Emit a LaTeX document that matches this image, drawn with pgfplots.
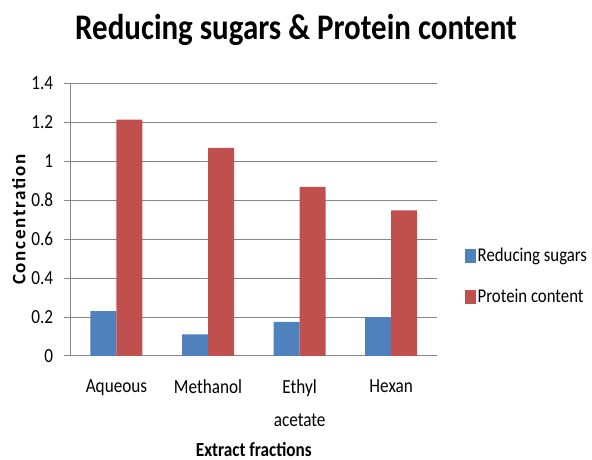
\documentclass[border=0pt]{standalone}
\usepackage{fontspec}
\setmainfont{Carlito}[FakeStretch=0.86]
\newfontfamily\ylabfont{Carlito}[LetterSpace=9]
\usepackage{pgfplots}
\pgfplotsset{compat=1.18}
\definecolor{sugar}{RGB}{79,129,189}
\definecolor{prot}{RGB}{192,80,77}
\definecolor{axgray}{RGB}{134,134,134}
\begin{document}
\begin{tikzpicture}
\useasboundingbox (-70.7pt,-104pt) rectangle (521.3pt,356pt);
\begin{axis}[
  at={(0pt,0pt)}, anchor=south west,
  scale only axis, width=366.3pt, height=272.7pt,
  ybar=0pt, bar width=26pt,
  xmin=-0.5, xmax=3.5, ymin=0, ymax=1.4,
  axis x line*=bottom, axis y line*=left,
  axis line style={axgray, line width=1pt},
  ytick={0,0.2,0.4,0.6,0.8,1,1.2,1.4},
  yticklabels={0,0.2,0.4,0.6,0.8,1,1.2,1.4},
  xtick={0,1,2,3},
  xticklabels={Aqueous,Methanol,{Ethyl\\acetate},Hexan},
  minor xtick={-0.5,0.5,1.5,2.5,3.5},
  tick align=outside, major tick length=7pt, minor tick length=7pt,
  xtick style={draw=none},
  minor x tick style={axgray, line width=1pt},
  ytick style={axgray, line width=1pt},
  ymajorgrids, grid style={axgray, line width=1pt},
  tick label style={font=\fontsize{20}{29}\selectfont},
  xticklabel style={align=center, yshift=-13pt, font=\fontsize{20}{33}\selectfont},
  yticklabel style={xshift=-7pt},
  xlabel={\bfseries Extract fractions},
  xlabel style={at={(rel axis cs:0.5,0)}, anchor=base, yshift=-100pt, font=\fontsize{20}{22}\selectfont},
  ylabel={\ylabfont\bfseries Concentration},
  ylabel style={at={(rel axis cs:-0.142,0.5)}, anchor=center, font=\fontsize{19}{22}\selectfont},
  legend style={at={(1.0765,0.293)}, anchor=west, draw=none, fill=none, inner sep=0pt,
    font=\fontsize{19.5}{22}\selectfont, row sep=23pt, nodes={inner sep=1.5pt}},
  legend cell align=left,
  legend image code/.code={\fill[#1] (0pt,-7pt) rectangle (11pt,7pt);},
]
\addplot[fill=sugar, draw=none] coordinates {(0,0.231) (1,0.111) (2,0.175) (3,0.200)};
\addplot[fill=prot, draw=none] coordinates {(0,1.213) (1,1.068) (2,0.868) (3,0.748)};
\legend{Reducing sugars, Protein content}
\end{axis}
\node[anchor=base, font=\fontsize{36}{42}\selectfont\bfseries] at (225.3pt,316pt) {Reducing sugars \& Protein content};
\end{tikzpicture}
\end{document}
